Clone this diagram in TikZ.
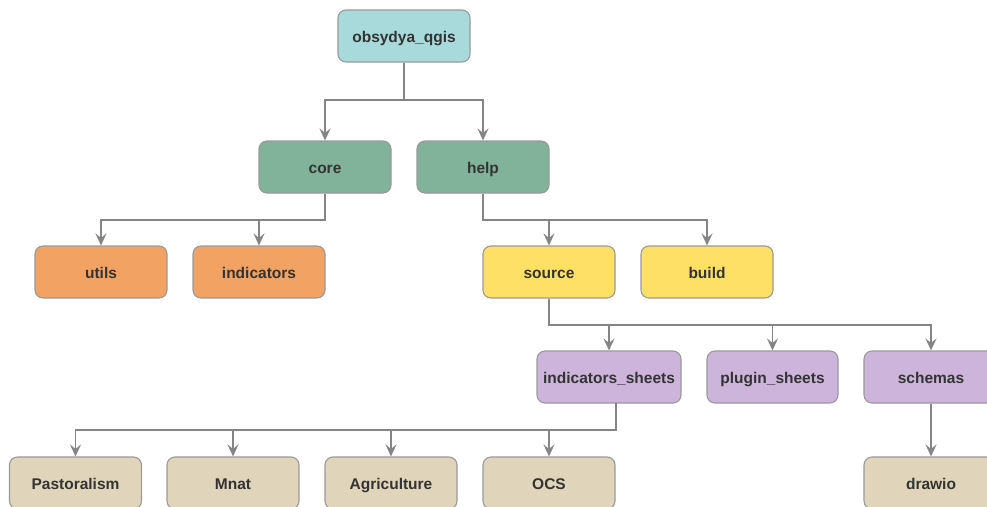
\documentclass[tikz,border=0pt]{standalone}
\usepackage{fontspec}
\setmainfont{Liberation Sans}
\usetikzlibrary{arrows.meta}
\definecolor{cteal}{HTML}{A8DADC}
\definecolor{cgreen}{HTML}{80B39A}
\definecolor{corange}{HTML}{F2A262}
\definecolor{cyellow}{HTML}{FFE066}
\definecolor{cpurple}{HTML}{CDB4DB}
\definecolor{ctan}{HTML}{E0D5BA}
\definecolor{cborder}{HTML}{9A9A9A}
\definecolor{cline}{HTML}{858585}
\definecolor{ctext}{HTML}{333333}
\tikzset{
  box/.style={draw=cborder, line width=1.1pt, rounded corners=8pt, minimum width=132pt, minimum height=52pt, inner sep=0pt, text height=13pt, text depth=1pt, font=\fontsize{15.5}{18}\selectfont\bfseries, text=ctext, anchor=center},
  widebox/.style={box, minimum width=144pt},
  conn/.style={draw=cline, line width=1.3pt, -{Stealth[length=12pt,width=11pt,inset=4.5pt]}},
}
\begin{document}
\begin{tikzpicture}[x=1pt,y=-1pt]
\useasboundingbox (0,0) rectangle (987,506);
\clip (0,0) rectangle (987,506);
\fill[white] (0,0) rectangle (987,506);
\node[box, fill=cteal] (root) at (404,36) {obsydya\_qgis};
\node[box, fill=cgreen] (core) at (325,167) {core};
\node[box, fill=cgreen] (help) at (483,167) {help};
\node[box, fill=corange] (utils) at (101,272) {utils};
\node[box, fill=corange] (indic) at (259,272) {indicators};
\node[box, fill=cyellow] (source) at (549,272) {source};
\node[box, fill=cyellow] (build) at (707,272) {build};
\node[widebox, fill=cpurple] (isheets) at (609,377) {indicators\_sheets};
\node[box, fill=cpurple, minimum width=131pt] (psheets) at (772.5,377) {plugin\_sheets};
\node[box, fill=cpurple, minimum width=134pt] (schemas) at (931,377) {schemas};
\node[box, fill=ctan] (past) at (75.5,483) {Pastoralism};
\node[box, fill=ctan] (mnat) at (233,483) {Mnat};
\node[box, fill=ctan] (agri) at (391,483) {Agriculture};
\node[box, fill=ctan] (ocs) at (549,483) {OCS};
\node[box, fill=ctan, minimum width=134pt] (drawio) at (931,483) {drawio};
% root
\draw[conn] (root.south) |- (404,100) -| (core.north);
\draw[conn] (root.south) |- (404,100) -| (help.north);
% core
\draw[conn] (core.south) |- (325,220) -| (utils.north);
\draw[conn] (core.south) |- (325,220) -| (indic.north);
% help
\draw[conn] (help.south) |- (483,220) -| (source.north);
\draw[conn] (help.south) |- (483,220) -| (build.north);
% source
\draw[conn] (source.south) |- (549,325) -| (isheets.north);
\draw[conn] (source.south) |- (549,325) -| (psheets.north);
\draw[conn] (source.south) |- (549,325) -| (schemas.north);
% indicators_sheets
\coordinate (isb) at (616,403);
\draw[conn] (isb) |- (616,430) -| (past.north);
\draw[conn] (isb) |- (616,430) -| (mnat.north);
\draw[conn] (isb) |- (616,430) -| (agri.north);
\draw[conn] (isb) |- (616,430) -| (ocs.north);
% schemas
\draw[conn] (schemas.south) -- (drawio.north);
\end{tikzpicture}
\end{document}
